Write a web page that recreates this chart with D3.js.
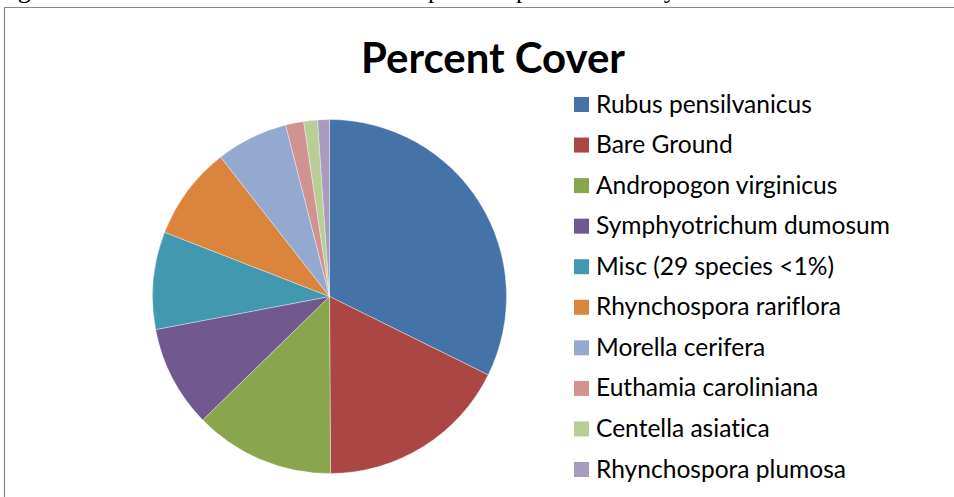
<!DOCTYPE html>
<html>
<head>
<meta charset="utf-8">
<script src="https://cdn.jsdelivr.net/npm/d3@7"></script>
<style>
  html, body { margin: 0; padding: 0; background: #fff; overflow: hidden; }
  svg { display: block; }
  text { font-variant-ligatures: none; font-feature-settings: "liga" 0, "clig" 0; }
</style>
</head>
<body>
<svg id="chart" width="954" height="497"></svg>
<script>
const species = [
  "Rubus pensilvanicus",
  "Bare Ground",
  "Andropogon virginicus",
  "Symphyotrichum dumosum",
  "Misc (29 species <1%)",
  "Rhynchospora rariflora",
  "Morella cerifera",
  "Euthamia caroliniana",
  "Centella asiatica",
  "Rhynchospora plumosa"
];
const percentCover = [32.3, 17.6, 12.8, 9.3, 8.9, 8.55, 6.55, 1.66, 1.26, 1.07];
const colors = ["#4572A7", "#AA4643", "#89A54E", "#71588F", "#4198AF",
                "#DB843D", "#93A9CF", "#D19392", "#B9CD96", "#A99BBD"];
const chartTitle = "Percent Cover";
const captionWords = [
  ["Figure", -4], ["3.", 80], ["Percent", 120], ["cover", 240], ["of", 330],
  ["plant", 428], ["species", 506], ["in", 610], ["Hydric", 645], ["Flatwoods", 750]
];

const svg = d3.select("#chart");

// cut-off caption text from the document above the chart
const cap = svg.append("g")
  .attr("font-family", "'Liberation Serif', 'Times New Roman', serif")
  .attr("font-size", 26).attr("fill", "#000");
captionWords.forEach(([w, x]) => {
  cap.append("text").attr("x", x).attr("y", -2.5).text(w);
});

// chart frame
svg.append("path")
  .attr("d", "M4.5,500 L4.5,7.5 L960,7.5")
  .attr("fill", "none").attr("stroke", "#878787").attr("stroke-width", 1.2);

// title
const title = svg.append("text")
  .attr("x", 493).attr("y", 73)
  .attr("text-anchor", "middle")
  .attr("font-family", "Lato, 'Open Sans', sans-serif")
  .attr("font-weight", "bold")
  .attr("font-size", 40)
  .attr("fill", "#000")
  .text(chartTitle);
{
  const w = title.node().getComputedTextLength();
  title.attr("font-size", 40 * 264 / w);
}

// pie
const cx = 329.5, cy = 296.5, r = 177;
const pie = d3.pie().sort(null).value(d => d);
const arc = d3.arc().innerRadius(0).outerRadius(r);
const color = d3.scaleOrdinal().domain(species).range(colors);

svg.append("g")
  .attr("transform", `translate(${cx},${cy})`)
  .selectAll("path")
  .data(pie(percentCover))
  .join("path")
  .attr("d", arc)
  .attr("fill", (d, i) => color(species[i]))
  .attr("stroke", "#fff")
  .attr("stroke-width", 0.5)
  .attr("stroke-opacity", 0.7);

// legend
const legendY = d3.scalePoint().domain(species).range([104.5, 469.5]);
const lg = svg.append("g");
const items = lg.selectAll("g").data(species).join("g")
  .attr("transform", d => `translate(574,${legendY(d)})`);
items.append("rect")
  .attr("x", 0).attr("y", -7.5).attr("width", 15).attr("height", 15)
  .attr("fill", d => color(d));
const labels = items.append("text")
  .attr("x", 22).attr("y", 8)
  .attr("font-family", "Lato, 'Open Sans', sans-serif")
  .attr("font-size", 22)
  .attr("fill", "#000")
  .text(d => d);
{
  const w = labels.filter((d, i) => i === 0).node().getComputedTextLength();
  labels.attr("font-size", 22 * 216 / w);
}
</script>
</body>
</html>
